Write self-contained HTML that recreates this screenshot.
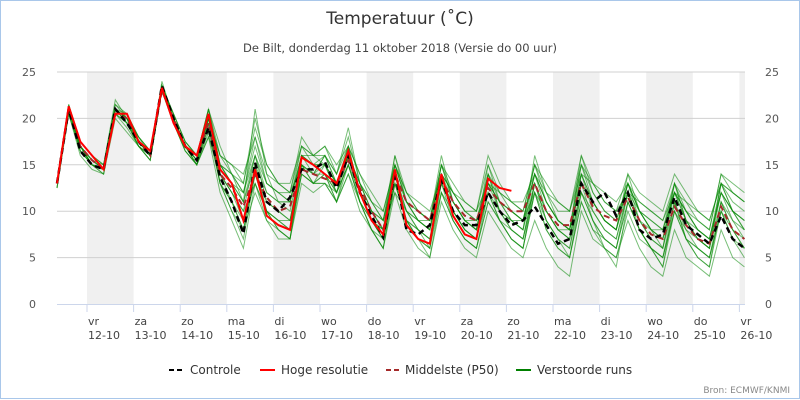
<!DOCTYPE html>
<html><head><meta charset="utf-8"><style>
body{margin:0;background:#fff;}
svg{display:block;font-family:"DejaVu Sans","Liberation Sans",sans-serif;}
</style></head><body>
<svg id="chart" width="800" height="400">
<rect x="0.5" y="0.5" width="799" height="398" fill="#fff" stroke="#a9c7ea"/>
<text x="400" y="24" text-anchor="middle" font-size="17" fill="#333">Temperatuur (˚C)</text>
<text x="400" y="52" text-anchor="middle" font-size="11.5" fill="#444">De Bilt, donderdag 11 oktober 2018 (Versie do 00 uur)</text>
<g id="bands"></g><g id="grid"></g><g id="members"></g><g id="mainlines"></g><g id="axes"></g>
<g font-size="12" fill="#333">
<g><line x1="169" y1="370" x2="184" y2="370" stroke="#000" stroke-width="2" stroke-dasharray="5,3"/><text x="190" y="374">Controle</text></g>
<g><line x1="260" y1="370" x2="275" y2="370" stroke="#f00" stroke-width="2"/><text x="281" y="374">Hoge resolutie</text></g>
<g><line x1="386" y1="370" x2="401" y2="370" stroke="#a52a2a" stroke-width="2" stroke-dasharray="5,3"/><text x="405" y="374">Middelste (P50)</text></g>
<g><line x1="516" y1="370" x2="531" y2="370" stroke="#008000" stroke-width="2"/><text x="537" y="374">Verstoorde runs</text></g>
</g>
<text x="790" y="393" text-anchor="end" font-size="9" fill="#888">Bron: ECMWF/KNMI</text>
</svg>
<script>
const dayNames=["vr","za","zo","ma","di","wo","do","vr","za","zo","ma","di","wo","do","vr"];
const dayDates=["12-10","13-10","14-10","15-10","16-10","17-10","18-10","19-10","20-10","21-10","22-10","23-10","24-10","25-10","26-10"];
const yTicks=[0,5,10,15,20,25];
const controle=[13,21,16.5,15,14.5,21,19.5,17.5,16,23.5,20,17,15.5,19,13.7,11,7.6,15.2,11,10,11.5,14.5,14.5,15.3,12.5,16,12,9.5,7.2,14.2,8,7.5,8.5,13.4,10,8.5,8.5,12,10,8.5,9,10.5,8.5,6.5,7,13,11,12,9.5,12,8,7,7.5,11.5,8.5,7.5,6.5,9.5,7,6];
const hogeResolutie=[13,21.3,17.5,16,14.5,20.5,20.5,17.5,16.5,23.3,19.5,17,16,20.5,14.5,13,9,14.5,9.5,8.5,8,15.8,15,14,13,16.5,12,9,7.5,14.5,8.5,7,6.5,14,9.5,7.5,7,13.5,12.5,12.2];
const p50=[13,21,17,15.5,14.5,20.5,20,17.5,16,23,20,17,16,19.5,14,12.5,10.5,14,11.5,10,10.5,14.5,14,13.5,13,15.5,12.5,10,8,14,11,10,9,13.5,11,9.5,9,12.5,11,10,10,13,10,8.5,8.5,13,10.5,9.5,9,11.5,9,7.5,7,10.5,8.5,7,6.5,10.5,8,7];
const m1=[13,21,17,15.5,15,21.5,20,18,16.5,23.5,20.5,17.5,16,20,16,15,14,18,14,13,13,17,16,17,15,17,14,12,10,15,12,11,10,14,12,11,10,13,12,11,11,14,12,10,10,14,13,12,11,13,11,10,9,12,11,10,9,13,12,11];
const m2=[12.5,20.5,16,14.5,14,20,18.5,17,15.5,23,19.5,16.5,15,18,12,9,6,13,9,7,7,13,12,13,11,14,10,8,6,12,8,6,5,11,8,6,5,10,8,6,5,9,6,4,3,10,7,6,5,9,6,4,3,8,5,4,3,8,5,4];
const m3=[13,21.5,17.5,16,15,22,20,18,16,24,20,17,15,21,17,14,11,16,13,12,11,16,15,15,13,17,12,9,8,15,11,9,8,15,11,9,8,13,11,10,9,14,11,9,8,15,12,10,9,13,10,8,7,12,9,7,6,13,10,9];
const m4=[13,20.5,16.5,15,14.5,20.5,19,17,15.5,23,19.5,16.5,15,19,13,10,8,12,9,8,7,14,13,14,11,15,11,8,7,13,9,8,7,12,10,8,7,12,10,8,7,13,9,7,6,12,9,7,6,11,8,6,5,10,7,6,5,11,8,7];
const m5=[13,21,17,15,14.5,21,20,17.5,16,23.5,20,17,16,20,15,13,12,17,13,12,12,15,14,16,14,18,13,10,9,14,10,9,9,15,12,10,9,14,12,10,9,12,10,8,8,13,11,9,8,14,10,8,8,13,9,8,7,12,10,8];
const m6=[12.5,21,16.5,15,14,21,19.5,17,16,23,20,17,15,18,14,12,9,14,11,10,9,16,15,14,12,15,11,9,8,13,10,8,6,13,9,7,6,11,9,7,6,12,8,6,5,11,8,7,6,12,8,6,5,11,7,6,5,10,7,6];
const m7=[13,21,17,15.5,14.5,21,20.5,18,16.5,23.5,20.5,17.5,16,21,15,14,13,19,15,13,12,17,15,16,13,16,13,11,9,16,12,10,9,14,12,10,10,15,12,11,10,15,12,11,10,15,13,11,10,12,11,10,9,13,11,9,8,14,12,11];
const m8=[13,21,17,15,14.5,21,19.5,17.5,16,23.5,20,17,15.5,19.5,13,11,8,15,10,8,7,15,14,15,12,16,12,9,7,14,9,7,6,14,10,8,7,13,10,8,7,13,10,8,7,14,10,8,7,12,9,7,6,12,9,7,6,12,9,7];
const m9=[13,21,17,15,14.5,21,20,17.5,16,23,20,17,16,20,14,12,10,13,10,9,9,15,13,13,12,15,12,10,8,12,10,9,8,13,11,9,8,14,10,9,8,13,10,8,7,12,10,8,7,12,9,8,6,11,8,7,6,11,9,8];
const m10=[13,21,17,15.5,14.5,21,20,17.5,16,23.5,20,17,15.5,20,15,13,11,21,14,11,10,16,16,17,14,19,13,10,8,15,11,10,9,16,11,9,8,15,11,9,8,16,12,9,8,16,12,10,9,13,10,9,8,12,10,9,8,14,13,12];
const m11=[13,21,17,15,14.5,21,20,17.5,16,23.5,20,17,15.5,20,16,14,12,16,12,11,11,17,16,15,13,16,13,11,9,15,11,10,9,14,12,10,9,13,11,10,9,14,11,9,8,14,11,9,8,12,10,8,7,12,10,8,7,12,10,9];
const m12=[13,21,16.5,15,14.5,20.5,19.5,17,16,23,19.5,17,15.5,19,14,11,9,13,10,9,8,14,13,14,12,15,11,9,7,13,9,8,7,13,10,8,7,12,9,8,7,12,9,7,6,13,9,7,6,11,8,6,5,10,8,6,5,10,8,6];
const m13=[13,21.5,17.5,16,15,21.5,20.5,18,16.5,23.5,20.5,17.5,16,21,16,15,13,20,15,13,12,18,16,16,14,17,14,11,10,15,12,10,9,15,13,11,10,16,13,11,10,15,13,11,10,16,13,11,10,14,12,11,10,14,12,10,9,13,12,11];
const m14=[13,21,17,15.5,14.5,21,19.5,17.5,16,23,20,17,15,19.5,13,10,7,14,10,8,7,15,14,14,11,16,11,8,6,14,9,7,5,12,9,7,6,12,9,7,6,13,9,7,5,12,9,6,4,11,8,6,4,11,7,5,4,10,7,5];
const m15=[13,21,17,15,14.5,21,20,17.5,16,23.5,20,17,16,20.5,15,13,11,15,12,11,11,16,15,15,13,16,13,10,9,14,11,9,8,14,11,9,9,13,11,9,9,14,11,9,8,13,11,9,8,13,10,9,8,12,10,8,7,12,10,9];
const m16=[12.5,21,17,15,14,21,20,17,16,23.5,20,17,15.5,20,14,12,10,16,11,10,9,15,13,15,12,17,12,9,7,14,10,8,7,14,10,8,7,14,10,9,8,14,10,8,7,14,11,9,8,13,9,7,6,13,9,7,6,13,10,8];
const m17=[13,21,17,15.5,14.5,21,20,17.5,16,23.5,20,17,16,21,15,14,12,18,13,12,11,16,14,16,13,16,12,10,8,16,11,9,8,15,11,9,8,14,11,10,9,15,11,9,8,15,11,9,8,13,10,8,7,13,10,8,7,13,11,10];
const m18=[13,20.5,16.5,15,14.5,20.5,19.5,17,15.5,23,19.5,16.5,15,18.5,13,11,8,14,10,9,8,14,13,13,11,14,11,8,6,13,9,7,6,12,9,7,6,11,9,7,6,12,8,6,5,11,8,6,5,10,7,6,4,10,7,5,4,11,8,6];
const members=[m1,m2,m3,m4,m5,m6,m7,m8,m9,m10,m11,m12,m13,m14,m15,m16,m17,m18];

const NS="http://www.w3.org/2000/svg";
const X0=57,X1=745,Y0=304,YT=72,STEP=11.65,DAY0=87,DAYW=46.6;
function xs(i){return X0+i*STEP;}
function ys(v){return Y0-(v/25)*(Y0-YT);}
function mk(tag,attrs,parent){const e=document.createElementNS(NS,tag);for(const k in attrs)e.setAttribute(k,attrs[k]);parent.appendChild(e);return e;}
const bands=document.getElementById('bands'),grid=document.getElementById('grid'),mem=document.getElementById('members'),ml=document.getElementById('mainlines'),ax=document.getElementById('axes');
for(let d=0;d<dayNames.length;d+=2){
  const a=DAY0+d*DAYW,b=Math.min(a+DAYW,X1);
  const r=mk('rect',{x:a,y:YT,width:b-a,height:Y0-YT,fill:'#f0f0f0'},bands);
  
  
}
yTicks.forEach(t=>{
  const y=ys(t);
  if(t>0){const l=mk('line',{x1:X0,x2:X1,y1:y,y2:y,stroke:'#d0d0d0','stroke-width':1},grid);
  
  }
  const tl=mk('text',{x:36,y:y+4,'text-anchor':'end','font-size':11,fill:'#555'},ax);tl.textContent=t;
  
  
  const tr=mk('text',{x:765,y:y+4,'text-anchor':'start','font-size':11,fill:'#555'},ax);tr.textContent=t;
  
  
});
function path(vals,attrs,parent,name){
  const d=vals.map((v,i)=>(i?'L':'M')+xs(i).toFixed(1)+' '+ys(v).toFixed(1)).join(' ');
  const p=mk('path',Object.assign({d:d,fill:'none'},attrs),parent);
  
  
}
members.forEach(m=>path(m,{stroke:'#0a8a0a','stroke-opacity':0.55,'stroke-width':1},mem,'ensemble-member-line'));
path(p50,{stroke:'#a52a2a','stroke-width':2,'stroke-dasharray':'6,4'},ml,'p50-line');
path(controle,{stroke:'#000','stroke-width':2.5,'stroke-dasharray':'6,4'},ml,'controle-line');
path(hogeResolutie,{stroke:'#f00','stroke-width':2},ml,'hoge-resolutie-line');
const axl=mk('line',{x1:X0,x2:X1,y1:Y0+0.5,y2:Y0+0.5,stroke:'#ccd6eb','stroke-width':1},ax);


dayNames.forEach((n,d)=>{
  const x=DAY0+d*DAYW;
  const tk=mk('line',{x1:x,x2:x,y1:Y0,y2:Y0+8,stroke:'#ccd6eb'},ax);
  
  
  const t1=mk('text',{x:x+1,y:325,'font-size':11,fill:'#444'},ax);t1.textContent=n;
  
  
  const t2=mk('text',{x:x+1,y:339,'font-size':11,fill:'#444'},ax);t2.textContent=dayDates[d];
  
  
});
</script>
</body></html>
